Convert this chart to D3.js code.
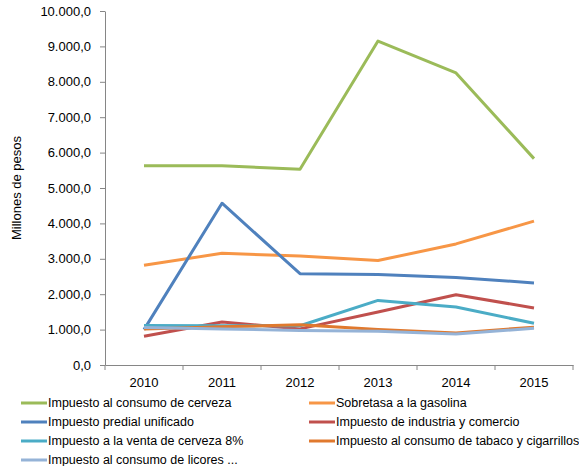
<!DOCTYPE html>
<html>
<head>
<meta charset="utf-8">
<script src="https://cdn.jsdelivr.net/npm/d3@7/dist/d3.min.js"></script>
<style>
  body { margin: 0; background: #fff; }
  svg { display: block; }
  text { font-family: "Liberation Sans", Arial, sans-serif; fill: #000; }
</style>
</head>
<body>
<svg id="chart" width="579" height="466"></svg>
<script>
const years = ["2010", "2011", "2012", "2013", "2014", "2015"];
const seriesNames = [
  "Impuesto al consumo de cerveza",
  "Sobretasa a la gasolina",
  "Impuesto predial unificado",
  "Impuesto de industria y comercio",
  "Impuesto a la venta de cerveza 8%",
  "Impuesto al consumo de tabaco y cigarrillos",
  "Impuesto al consumo de licores ..."
];
const cerveza   = [5630, 5630, 5530, 9150, 8250, 5830];
const gasolina  = [2815, 3155, 3080, 2950, 3420, 4065];
const predial   = [1000, 4570, 2580, 2555, 2475, 2318];
const industria = [812, 1215, 1020, 1495, 1985, 1612];
const ventaCerveza = [1115, 1110, 1110, 1825, 1640, 1178];
const tabaco    = [1020, 1080, 1135, 1000, 905, 1068];
const licores   = [1060, 1020, 975, 955, 875, 1035];
const seriesValues = [cerveza, gasolina, predial, industria, ventaCerveza, tabaco, licores];
const colors = ["#9BBB59", "#F79646", "#4F81BD", "#C0504D", "#4BACC6", "#E0792E", "#95B3D7"];
const yTicks = [0, 1000, 2000, 3000, 4000, 5000, 6000, 7000, 8000, 9000, 10000];

(function () {
const svg = d3.select("#chart");
const mLeft = 105, mRight = 573, mTop = 11, mBottom = 365;

const x = d3.scaleBand().domain(years).range([mLeft, mRight]).paddingInner(0).paddingOuter(0);
const y = d3.scaleLinear().domain([0, 10000]).range([mBottom, mTop]);

const fmt = v => {
  const s = d3.format(",.1f")(v);
  return s.replace(/,/g, "#").replace(".", ",").replace(/#/g, ".");
};

// Y axis
const yAxis = svg.append("g").attr("transform", `translate(${mLeft},0)`)
  .call(d3.axisLeft(y).tickValues(yTicks).tickFormat(fmt).tickSize(5).tickSizeOuter(0));
yAxis.select(".domain").attr("stroke", "#868686");
yAxis.selectAll(".tick line").attr("stroke", "#868686");
yAxis.selectAll(".tick text").attr("font-size", 13).attr("x", -14)
  .attr("font-family", "Liberation Sans, Arial, sans-serif").attr("fill", "#000");

// X axis
const xAxis = svg.append("g").attr("transform", `translate(0,${mBottom})`)
  .call(d3.axisBottom(x).tickSize(0).tickSizeOuter(0));
xAxis.select(".domain").attr("stroke", "#868686");
xAxis.selectAll(".tick text").attr("font-size", 13).attr("dy", "0.71em").attr("y", 13)
  .attr("font-family", "Liberation Sans, Arial, sans-serif").attr("fill", "#000");
const bounds = years.map(d => x(d)).concat([x(years[years.length - 1]) + x.bandwidth()]);
svg.append("g").selectAll("line").data(bounds).join("line")
  .attr("x1", d => d).attr("x2", d => d)
  .attr("y1", mBottom).attr("y2", mBottom + 5)
  .attr("stroke", "#868686");

// Y title
svg.append("text")
  .attr("transform", `translate(21,${(mTop + mBottom) / 2}) rotate(-90)`)
  .attr("text-anchor", "middle")
  .attr("font-size", 13)
  .text("Millones de pesos");

// Lines
const line = d3.line()
  .x((d, i) => x(years[i]) + x.bandwidth() / 2)
  .y(d => y(d));
svg.append("g").selectAll("path").data(seriesValues).join("path")
  .attr("d", d => line(d))
  .attr("fill", "none")
  .attr("stroke", (d, i) => colors[i])
  .attr("stroke-width", 3)
  .attr("stroke-linejoin", "round");

// Legend
const legendCols = [21, 309];
const legendRows = [403, 422, 441, 460];
const leg = svg.append("g").selectAll("g").data(seriesNames).join("g")
  .attr("transform", (d, i) => `translate(${legendCols[i % 2]},${legendRows[Math.floor(i / 2)]})`);
leg.append("line").attr("x1", 0).attr("x2", 26).attr("y1", 0).attr("y2", 0)
  .attr("stroke", (d, i) => colors[i]).attr("stroke-width", 3);
leg.append("text").attr("x", 27).attr("y", 0).attr("dy", "0.35em")
  .attr("font-size", 12.5).text(d => d);
})();
</script>
</body>
</html>
